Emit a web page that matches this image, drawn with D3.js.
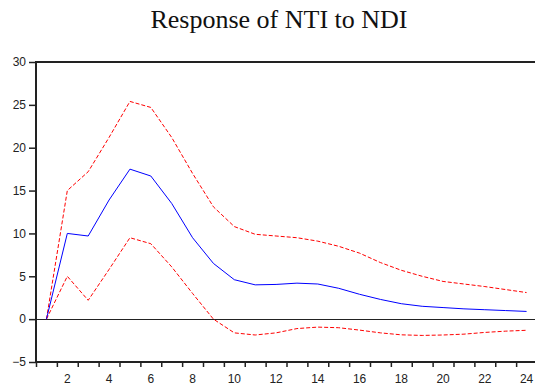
<!DOCTYPE html>
<html lang="en">
<head>
  <meta charset="UTF-8" />
  <title>Response of NTI to NDI</title>
  <style>
    body {
      margin: 0;
      background: #fff;
    }
    .tick text {
      font-family: "Liberation Sans", Arial, sans-serif;
      font-size: 12px;
      fill: #222;
    }
  </style>
  <script src="https://d3js.org/d3.v7.min.js"></script>
</head>
<body>
  <div id="chart"></div>

  <script>
    const width = 535;
    const height = 390;

    // impulse response periods and values
    const periods = d3.range(1, 25);
    const response = [0, 10.0, 9.7, 13.9, 17.5, 16.7, 13.5, 9.5, 6.5, 4.6, 4.0, 4.05,
                      4.2, 4.1, 3.6, 2.9, 2.3, 1.8, 1.5, 1.35, 1.2, 1.1, 1.0, 0.9];
    const upperBand = [0, 15.0, 17.2, 21.2, 25.4, 24.7, 21.2, 17.0, 13.1, 10.8, 9.9, 9.7,
                       9.5, 9.1, 8.5, 7.7, 6.6, 5.7, 5.0, 4.4, 4.1, 3.8, 3.45, 3.1];
    const lowerBand = [0, 5.0, 2.2, 5.8, 9.5, 8.8, 6.1, 3.0, 0.0, -1.6, -1.85, -1.6,
                       -1.1, -0.93, -1.0, -1.28, -1.6, -1.83, -1.9, -1.85, -1.75, -1.55, -1.4, -1.3];
    const yTicks = [-5, 0, 5, 10, 15, 20, 25, 30];
    const xLabels = d3.range(2, 25, 2);

    const margin = { top: 62, right: 0, bottom: 28, left: 36 };

    const svg = d3.select("#chart")
      .append("svg")
      .attr("width", width)
      .attr("height", height);

    const x = d3.scaleLinear()
      .domain([0.5, 24.5])
      .range([margin.left, width - margin.right + 2]);

    const y = d3.scaleLinear()
      .domain([-5, 30])
      .range([height - margin.bottom, margin.top]);

    // title
    svg.append("text")
      .attr("x", 279)
      .attr("y", 28)
      .attr("text-anchor", "middle")
      .style("font-family", "'Liberation Serif', 'Times New Roman', serif")
      .style("font-size", "26px")
      .style("fill", "#111")
      .text("Response of NTI to NDI");

    // top border
    svg.append("line")
      .attr("x1", margin.left - 1)
      .attr("x2", width)
      .attr("y1", margin.top)
      .attr("y2", margin.top)
      .attr("stroke", "#222")
      .attr("stroke-width", 2);

    // zero line
    svg.append("line")
      .attr("x1", margin.left)
      .attr("x2", width)
      .attr("y1", Math.round(y(0)) + 0.5)
      .attr("y2", Math.round(y(0)) + 0.5)
      .attr("stroke", "#222");

    // y axis
    const yAxis = svg.append("g")
      .attr("transform", `translate(${margin.left},0)`)
      .call(d3.axisLeft(y).tickValues(yTicks).tickSize(7).tickPadding(3));
    yAxis.selectAll(".tick line").attr("stroke", "#222").attr("stroke-width", 1.5);
    yAxis.select(".domain")
      .attr("d", `M0,${y(-5) + 1}V${margin.top - 1}`)
      .attr("stroke", "#222")
      .attr("stroke-width", 2);

    // x axis: ticks between periods, labels on even periods
    const xAxis = svg.append("g")
      .attr("transform", `translate(0,${Math.round(y(-5))})`)
      .call(d3.axisBottom(x).tickValues(d3.range(0.5, 24.5, 1)).tickSize(5).tickFormat(""));
    xAxis.selectAll(".tick line").attr("stroke", "#222").attr("stroke-width", 1.5);
    xAxis.select(".domain")
      .attr("d", `M${margin.left - 1},0H${width}`)
      .attr("stroke", "#222")
      .attr("stroke-width", 2);

    svg.append("g")
      .selectAll("text")
      .data(xLabels)
      .join("text")
      .attr("x", d => x(d))
      .attr("y", Math.round(y(-5)) + 21)
      .attr("text-anchor", "middle")
      .style("font-family", "'Liberation Sans', Arial, sans-serif")
      .style("font-size", "12px")
      .style("fill", "#222")
      .text(d => d);

    const line = d3.line()
      .x((d, i) => x(periods[i]))
      .y(d => y(d));

    svg.append("path")
      .datum(upperBand)
      .attr("d", line)
      .attr("fill", "none")
      .attr("stroke", "#ff0000")
      .attr("stroke-width", 1)
      .attr("stroke-dasharray", "4,2");

    svg.append("path")
      .datum(lowerBand)
      .attr("d", line)
      .attr("fill", "none")
      .attr("stroke", "#ff0000")
      .attr("stroke-width", 1)
      .attr("stroke-dasharray", "4,2");

    svg.append("path")
      .datum(response)
      .attr("d", line)
      .attr("fill", "none")
      .attr("stroke", "#0000ff")
      .attr("stroke-width", 1);
  </script>
</body>
</html>
